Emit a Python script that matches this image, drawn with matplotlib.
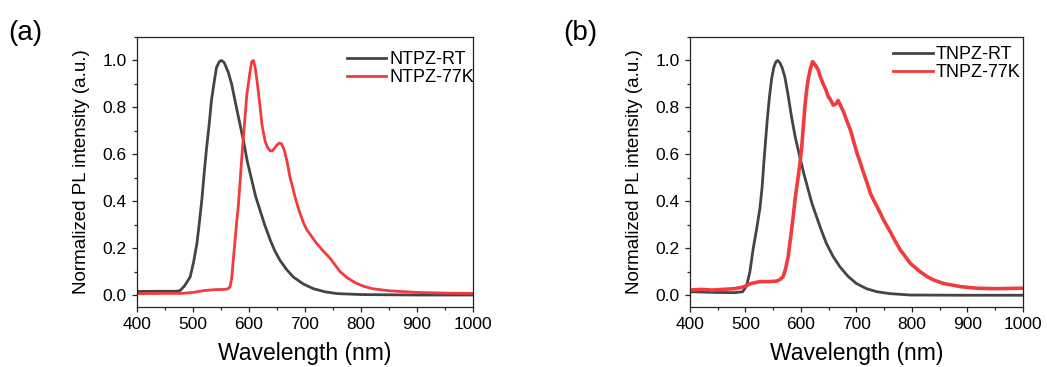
import matplotlib
matplotlib.use("Agg")
import matplotlib.pyplot as plt
from matplotlib.ticker import MultipleLocator, FormatStrFormatter

plt.rcParams['font.family'] = ['Liberation Sans', 'DejaVu Sans']

# ---- NTPZ spectra ----
ntpz_rt_wl = [400, 440, 470, 477, 485, 495, 501, 507, 511, 516, 520, 524, 529, 533, 538, 542,
              547, 551, 556, 563, 569, 575, 582, 590, 597, 605, 612, 620, 628, 638, 646, 655,
              667, 679, 697, 715, 735, 757, 800, 900, 1000]
ntpz_rt_int = [0.016, 0.017, 0.017, 0.02, 0.04, 0.078, 0.14, 0.22, 0.3, 0.41, 0.52, 0.62, 0.73,
               0.83, 0.91, 0.97, 0.995, 1.0, 0.99, 0.95, 0.9, 0.83, 0.75, 0.66, 0.57, 0.49,
               0.42, 0.36, 0.3, 0.235, 0.19, 0.15, 0.11, 0.078, 0.048, 0.028, 0.015, 0.007,
               0.003, 0.001, 0.001]

ntpz_77k_wl = [400, 450, 480, 500, 520, 540, 556, 562, 566, 569, 572, 575, 578, 581, 584, 587,
               590, 593, 596, 600, 603, 605, 608, 611, 614, 617, 620, 623, 626, 629, 633, 638,
               642, 646, 650, 654, 658, 661, 664, 668, 673, 678, 682, 687, 691, 697, 703, 712,
               721, 732, 745, 754, 763, 775, 790, 805, 820, 850, 900, 950, 1000]
ntpz_77k_int = [0.007, 0.008, 0.008, 0.012, 0.02, 0.024, 0.025, 0.027, 0.035, 0.07, 0.15, 0.23,
                0.31, 0.38, 0.48, 0.58, 0.67, 0.76, 0.85, 0.92, 0.97, 0.995, 1.0, 0.97, 0.92,
                0.86, 0.8, 0.73, 0.69, 0.655, 0.63, 0.615, 0.615, 0.628, 0.64, 0.648, 0.645,
                0.63, 0.61, 0.57, 0.505, 0.46, 0.42, 0.38, 0.35, 0.31, 0.28, 0.25, 0.22, 0.19,
                0.157, 0.128, 0.1, 0.075, 0.053, 0.038, 0.028, 0.019, 0.012, 0.009, 0.008]

# ---- TNPZ spectra ----
tnpz_rt_wl = [400, 450, 480, 495, 502, 508, 514, 520, 526, 530, 533, 536, 539, 543, 547, 551,
              555, 558, 562, 566, 571, 577, 583, 590, 598, 605, 613, 620, 628, 637, 646, 658,
              670, 685, 700, 718, 737, 760, 797, 900, 1000]
tnpz_rt_int = [0.015, 0.012, 0.011, 0.015, 0.04, 0.1, 0.2, 0.28, 0.37, 0.46, 0.56, 0.65, 0.74,
               0.84, 0.92, 0.97, 0.995, 1.0, 0.99, 0.97, 0.93, 0.85, 0.76, 0.67, 0.59, 0.52,
               0.45, 0.39, 0.335, 0.275, 0.22, 0.165, 0.122, 0.08, 0.05, 0.028, 0.015, 0.007,
               0.001, 0.0, 0.0]

tnpz_77k_wl = [400, 420, 440, 460, 480, 496, 510, 526, 540, 556, 563, 568, 572, 577, 581, 586,
               590, 595, 598, 601, 604, 607, 610, 613, 617, 621, 626, 631, 635, 640, 645, 649,
               654, 658, 663, 667, 670, 673, 677, 683, 689, 695, 701, 707, 713, 719, 725, 731,
               737, 743, 749, 755, 761, 770, 779, 788, 797, 806, 815, 827, 839, 857, 887, 916,
               950, 1000]
tnpz_77k_int = [0.022, 0.025, 0.022, 0.025, 0.028, 0.035, 0.05, 0.058, 0.058, 0.06, 0.068, 0.08,
                0.11, 0.165, 0.24, 0.335, 0.42, 0.505, 0.56, 0.62, 0.71, 0.8, 0.87, 0.92, 0.965,
                0.995, 0.98, 0.96, 0.93, 0.9, 0.875, 0.847, 0.83, 0.81, 0.815, 0.83, 0.815, 0.8,
                0.78, 0.74, 0.705, 0.655, 0.605, 0.565, 0.52, 0.48, 0.435, 0.405, 0.378, 0.35,
                0.32, 0.295, 0.27, 0.23, 0.193, 0.165, 0.136, 0.118, 0.1, 0.08, 0.065, 0.05,
                0.037, 0.03, 0.028, 0.03]

panels = [
    ("(a)", ntpz_rt_wl, ntpz_rt_int, ntpz_77k_wl, ntpz_77k_int, "NTPZ-RT", "NTPZ-77K"),
    ("(b)", tnpz_rt_wl, tnpz_rt_int, tnpz_77k_wl, tnpz_77k_int, "TNPZ-RT", "TNPZ-77K"),
]

RT_COLOR = "#444444"
LT_COLOR = "#f03c3c"

fig = plt.figure(figsize=(10.47, 3.67), dpi=100)
axes_rects = [[0.1308, 0.1635, 0.321, 0.7357], [0.659, 0.1635, 0.318, 0.7357]]
tag_pos = [(0.008, 0.91), (0.538, 0.91)]
legend_anchor = [(1.013, 0.961), (1.004, 0.979)]
lt_widths = [2.0, 2.6]

for (tag, wl1, y1, wl2, y2, lab1, lab2), rect, tp, anchor, lw2 in zip(
        panels, axes_rects, tag_pos, legend_anchor, lt_widths):
    ax = fig.add_axes(rect)
    ax.plot(wl1, y1, color=RT_COLOR, lw=2.0, label=lab1, solid_joinstyle="round")
    ax.plot(wl2, y2, color=LT_COLOR, lw=lw2, label=lab2, solid_joinstyle="round")
    ax.set_xlim(400, 1000)
    ax.set_ylim(-0.05, 1.1)
    ax.xaxis.set_major_locator(MultipleLocator(100))
    ax.xaxis.set_minor_locator(MultipleLocator(50))
    ax.yaxis.set_major_locator(MultipleLocator(0.2))
    ax.yaxis.set_minor_locator(MultipleLocator(0.1))
    ax.yaxis.set_major_formatter(FormatStrFormatter("%.1f"))
    ax.tick_params(which="major", direction="out", length=3.5, width=0.9, labelsize=12.5,
                   pad=4, top=False, right=False, colors="#222222", labelcolor="black")
    ax.tick_params(which="minor", direction="out", length=2, width=0.9, top=False, right=False,
                   colors="#222222")
    for s in ax.spines.values():
        s.set_linewidth(0.9)
        s.set_color("#222222")
    ax.set_xlabel("Wavelength (nm)", fontsize=16.5, labelpad=7)
    ax.set_ylabel("Normalized PL intensity (a.u.)", fontsize=13.5, labelpad=9)
    leg = ax.legend(loc="upper right", bbox_to_anchor=anchor, frameon=False, fontsize=13,
                    handlelength=2.2, handletextpad=0.15, labelspacing=0.05,
                    borderaxespad=0.0, borderpad=0.2)
    for line in leg.get_lines():
        line.set_linewidth(2.0)
    fig.text(tp[0], tp[1], tag, fontsize=20, ha="left", va="center")

fig.savefig("out.png", dpi=100)
